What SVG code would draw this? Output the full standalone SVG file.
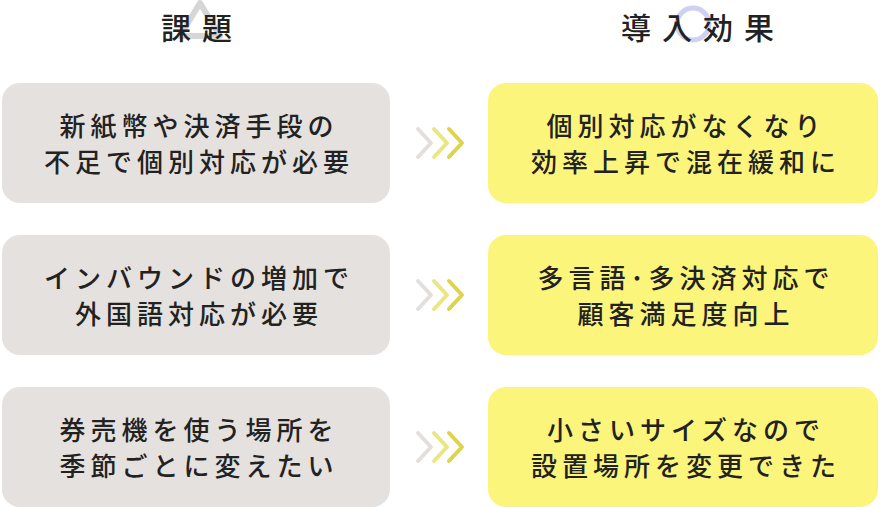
<svg xmlns="http://www.w3.org/2000/svg" width="880" height="507" viewBox="0 0 880 507">
<style>
text{font-family:"Noto Sans CJK JP",sans-serif;fill:#222;text-anchor:middle;font-weight:500}
.h{font-size:30px;letter-spacing:11px}
.t{font-size:26px;letter-spacing:5px}
.l{fill:#e5e1de}
.r{fill:#fcf57c}
.c{fill:none;stroke-width:4;stroke-linecap:round;stroke-linejoin:round}
</style>
<rect width="880" height="507" fill="#fff"/>
<g id="hdr-left"><path d="M180,36 L200,3 L220,36 Z" fill="none" stroke="#d6d6d6" stroke-width="6" stroke-linejoin="round"/><text class="h" x="202" y="39">課題</text></g>
<g id="hdr-right"><circle cx="693" cy="24" r="16" fill="none" stroke="#cdd1f2" stroke-width="5"/><text class="h" x="703" y="39">導入効果</text></g>
<g id="l1"><rect class="l" x="2" y="83" width="388" height="120" rx="18"/><text class="t" x="199" y="136">新紙幣や決済手段の</text><text class="t" x="199" y="172">不足で個別対応が必要</text></g>
<g id="l2"><rect class="l" x="2" y="235" width="388" height="120" rx="18"/><text class="t" x="199" y="288">インバウンドの増加で</text><text class="t" x="199" y="324">外国語対応が必要</text></g>
<g id="l3"><rect class="l" x="2" y="387" width="388" height="120" rx="18"/><text class="t" x="199" y="440">券売機を使う場所を</text><text class="t" x="199" y="476">季節ごとに変えたい</text></g>
<g id="r1"><rect class="r" x="488" y="83" width="390" height="120" rx="18"/><text class="t" x="686" y="136">個別対応がなくなり</text><text class="t" x="686" y="172">効率上昇で混在緩和に</text></g>
<g id="r2"><rect class="r" x="488" y="235" width="390" height="120" rx="18"/><text class="t" x="686" y="288">多言語･多決済対応で</text><text class="t" x="686" y="324">顧客満足度向上</text></g>
<g id="r3"><rect class="r" x="488" y="387" width="390" height="120" rx="18"/><text class="t" x="686" y="440">小さいサイズなので</text><text class="t" x="686" y="476">設置場所を変更できた</text></g>
<g id="connectors">
<g><path class="c" stroke="#e2dfdc" d="M418,129 L431,143 L418,157"/><path class="c" stroke="#ebe683" d="M434,129 L447,143 L434,157"/><path class="c" stroke="#ddd44c" d="M449,129 L462,143 L449,157"/></g>
<g transform="translate(0,152)"><path class="c" stroke="#e2dfdc" d="M418,129 L431,143 L418,157"/><path class="c" stroke="#ebe683" d="M434,129 L447,143 L434,157"/><path class="c" stroke="#ddd44c" d="M449,129 L462,143 L449,157"/></g>
<g transform="translate(0,304)"><path class="c" stroke="#e2dfdc" d="M418,129 L431,143 L418,157"/><path class="c" stroke="#ebe683" d="M434,129 L447,143 L434,157"/><path class="c" stroke="#ddd44c" d="M449,129 L462,143 L449,157"/></g>
</g>
</svg>
